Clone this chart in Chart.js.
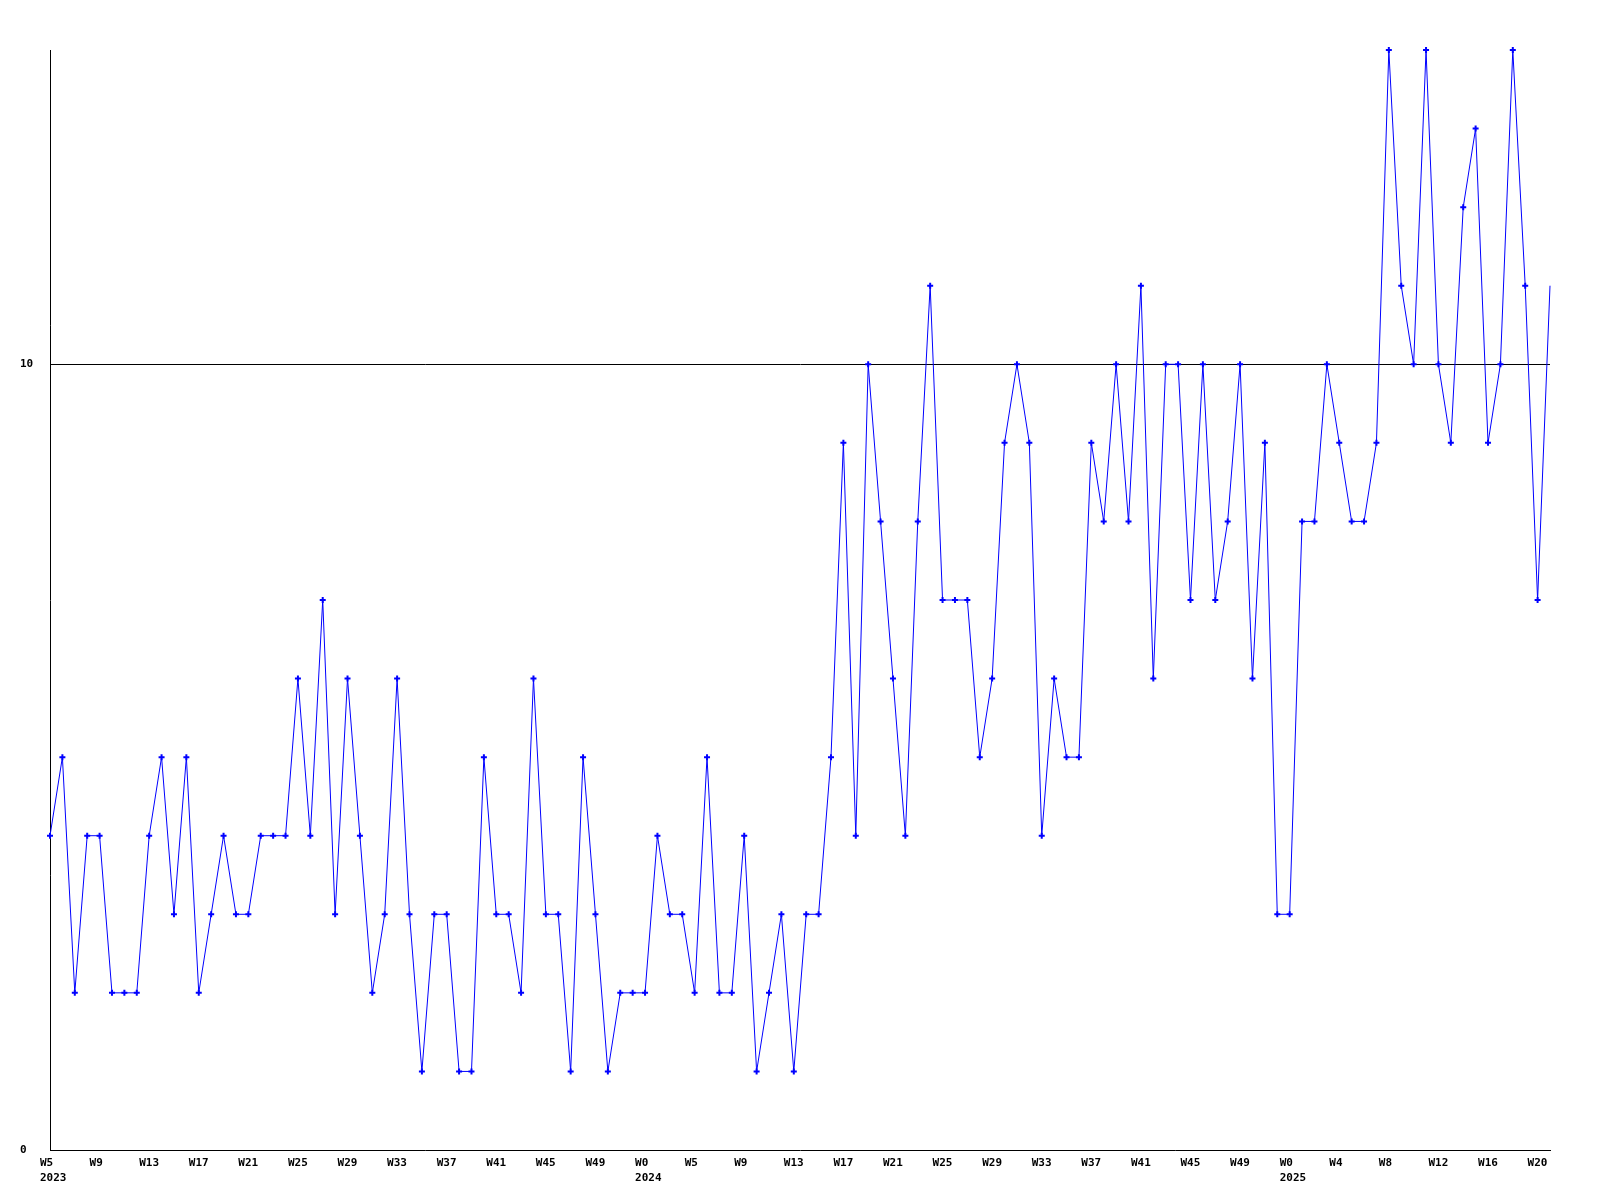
<!DOCTYPE html>
<html>
<head>
<meta charset="utf-8">
<style>
  body { margin: 0; background: #fff; }
  canvas { display: block; }
</style>
<script src="https://cdn.jsdelivr.net/npm/chart.js@4/dist/chart.umd.min.js"></script>
</head>
<body>
<canvas id="chart" width="1600" height="1200"></canvas>
<script>
// -----------------------------
// Data
// -----------------------------
const weeks2023 = ["W5","W6","W7","W8","W9","W10","W11","W12","W13","W14","W15","W16","W17","W18","W19","W20",
  "W21","W22","W23","W24","W25","W26","W27","W28","W29","W30","W31","W32","W33","W34","W35","W36",
  "W37","W38","W39","W40","W41","W42","W43","W44","W45","W46","W47","W48","W49","W50","W51","W52"]
const weeks2024 = ["W0","W2","W3","W4","W5","W6","W7","W8","W9","W10","W11","W12","W13","W14","W15","W16",
  "W17","W18","W19","W20","W21","W22","W23","W24","W25","W26","W27","W28","W29","W30","W31","W32",
  "W33","W34","W35","W36","W37","W38","W39","W40","W41","W42","W43","W44","W45","W46","W47","W48",
  "W49","W50","W51","W52"]
const weeks2025 = ["W0","W1","W2","W3","W4","W5","W6","W7","W8","W9","W10","W11","W12","W13","W14","W15",
  "W16","W17","W18","W19","W20","W21"]

const years = ["2023", "2024", "2025"]

const counts = [
  4, 5, 2, 4, 4, 2, 2, 2, 4, 5,
  3, 5, 2, 3, 4, 3, 3, 4, 4, 4,
  6, 4, 7, 3, 6, 4, 2, 3, 6, 3,
  1, 3, 3, 1, 1, 5, 3, 3, 2, 6,
  3, 3, 1, 5, 3, 1, 2, 2, 2, 4,
  3, 3, 2, 5, 2, 2, 4, 1, 2, 3,
  1, 3, 3, 5, 9, 4, 10, 8, 6, 4,
  8, 11, 7, 7, 7, 5, 6, 9, 10, 9,
  4, 6, 5, 5, 9, 8, 10, 8, 11, 6,
  10, 10, 7, 10, 7, 8, 10, 6, 9, 3,
  3, 8, 8, 10, 9, 8, 8, 9, 14, 11,
  10, 14, 10, 9, 12, 13, 9, 10, 14, 11,
  7, 11
]

const yTicks = [0, 10]

// -----------------------------
// Labels
// -----------------------------
const labels = [...weeks2023, ...weeks2024, ...weeks2025]
const yearAt = {}
yearAt[0] = years[0]
yearAt[weeks2023.length] = years[1]
yearAt[weeks2023.length + weeks2024.length] = years[2]

const font = { family: "'DejaVu Sans Mono', monospace", size: 11, weight: "bold", lineHeight: "15px" }
const lastIndex = counts.length - 1

// -----------------------------
// Chart
// -----------------------------
new Chart(document.getElementById("chart"), {
  type: "line",
  data: {
    labels: labels,
    datasets: [{
      data: counts,
      borderColor: "#0000ff",
      borderWidth: 1,
      backgroundColor: "#0000ff",
      pointStyle: "cross",
      pointRadius: ctx => (ctx.dataIndex === lastIndex ? 0 : 3),
      pointBorderWidth: 2,
      pointBorderColor: "#0000ff",
      tension: 0,
      fill: false,
      clip: false
    }]
  },
  options: {
    responsive: false,
    animation: false,
    layout: { padding: { left: 20, top: 50, right: 50, bottom: 0 } },
    plugins: {
      legend: { display: false },
      tooltip: { enabled: false }
    },
    scales: {
      x: {
        offset: false,
        grid: { display: false, drawTicks: false },
        border: { display: true, color: "#000", width: 1 },
        ticks: {
          autoSkip: false,
          maxRotation: 0,
          minRotation: 0,
          align: "start",
          labelOffset: -10,
          padding: 6,
          color: "#000",
          font: font,
          callback: function (val, i) {
            if (i % 4 !== 0) return ""
            const w = labels[i]
            return yearAt[i] ? [w, yearAt[i]] : w
          }
        },
        afterFit: scale => { scale.height = 50 }
      },
      y: {
        min: 0,
        max: 14,
        afterBuildTicks: scale => {
          scale.ticks = yTicks.map(v => ({ value: v }))
        },
        grid: {
          drawTicks: false,
          color: ctx => (ctx.tick && ctx.tick.value === 10 ? "#000" : "rgba(0,0,0,0)"),
          lineWidth: 1
        },
        border: { display: true, color: "#000", width: 1 },
        ticks: {
          crossAlign: "far",
          padding: 0,
          color: "#000",
          font: font
        },
        afterFit: scale => { scale.width = 30 }
      }
    }
  }
})
</script>
</body>
</html>
